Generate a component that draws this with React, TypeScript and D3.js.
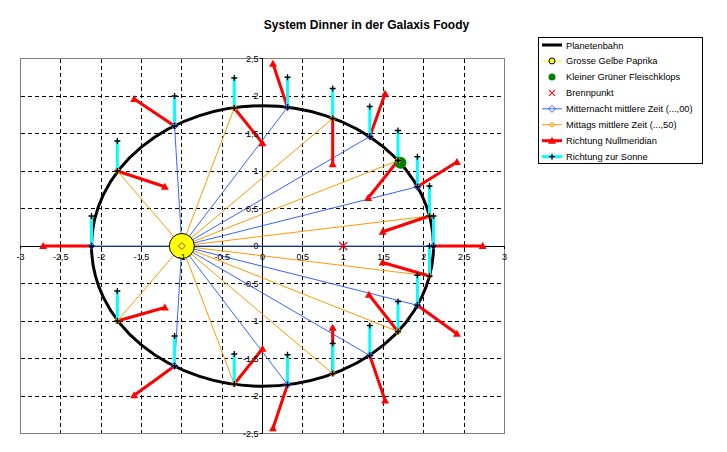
import React from "react";
import * as d3 from "d3";

const W = 727;
const H = 452;
const TITLE = "System Dinner in der Galaxis Foody";

const X_TICKS = [-3, -2.5, -2, -1.5, -1, -0.5, 0, 0.5, 1, 1.5, 2, 2.5, 3];
const Y_TICKS = [-2.5, -2, -1.5, -1, -0.5, 0, 0.5, 1, 1.5, 2, 2.5];

// Planetenbahn (Ellipse), Sonne im linken Brennpunkt
const orbitCenter = [0, 0];
const orbitRadii = [2.12, 1.87];
const sunPos = [-1, 0];
const focusPos = [1, 0];
const meatballPos = [1.71, 1.11];

// Zeitpunkte (,00 = Mitternacht, ,50 = Mittag)
const times = [0, 0.5, 1, 1.5, 2, 2.5, 3, 3.5, 4, 4.5, 5, 5.5, 6, 6.5, 7, 7.5, 8, 8.5, 9, 9.5];
const posX = [-2.12, -1.8, -1.09, -0.35, 0.31, 0.87, 1.33, 1.68, 1.92, 2.07, 2.12, 2.07, 1.92, 1.68, 1.33, 0.87, 0.31, -0.35, -1.09, -1.8];
const posY = [0, 1.0, 1.6, 1.84, 1.85, 1.7, 1.46, 1.14, 0.79, 0.4, 0, -0.4, -0.79, -1.14, -1.46, -1.7, -1.85, -1.84, -1.6, -1.0];
// Richtung Nullmeridian (Vektor)
const merDX = [-0.6, 0.59, -0.5, 0.35, -0.18, 0, 0.19, -0.37, 0.49, -0.58, 0.61, -0.58, 0.49, -0.36, 0.19, 0, -0.18, 0.35, -0.5, 0.59];
const merDY = [0, -0.21, 0.36, -0.47, 0.58, -0.61, 0.57, -0.5, 0.33, -0.21, 0, 0.18, -0.38, 0.49, -0.6, 0.61, -0.58, 0.47, -0.39, 0.18];
// Richtung zur Sonne (senkrecht)
const SUN_ARROW = 0.4;

const LEGEND = [
  "Planetenbahn",
  "Grosse Gelbe Paprika",
  "Kleiner Grüner Fleischklops",
  "Brennpunkt",
  "Mitternacht mittlere Zeit (...,00)",
  "Mittags mittlere Zeit (...,50)",
  "Richtung Nullmeridian",
  "Richtung zur Sonne",
];

const BLUE = "#3366ff";
const ORANGE = "#ff9900";
const RED = "#ff0000";
const CYAN = "#00ffff";
const GREEN = "#008000";
const FONT = "'Liberation Sans', Arial, sans-serif";

const fmt = (d: number) => String(d).replace(".", ",");

const Plus = ({ cx, cy }: { cx: number; cy: number }) => (
  <path d={`M${cx - 3},${cy}H${cx + 3}M${cx},${cy - 3}V${cy + 3}`} stroke="#000" strokeWidth={1.3} />
);
const Tri = ({ cx, cy }: { cx: number; cy: number }) => (
  <path d={`M${cx},${cy - 4}L${cx + 4},${cy + 3}L${cx - 4},${cy + 3}Z`} fill={RED} />
);
const Diamond = ({ cx, cy }: { cx: number; cy: number }) => (
  <path d={`M${cx},${cy - 3.5}L${cx + 3.5},${cy}L${cx},${cy + 3.5}L${cx - 3.5},${cy}Z`} fill="none" stroke={BLUE} strokeWidth={1} />
);
const Ring = ({ cx, cy }: { cx: number; cy: number }) => (
  <circle cx={cx} cy={cy} r={2.5} fill="none" stroke={ORANGE} strokeWidth={1} />
);
const Cross = ({ cx, cy }: { cx: number; cy: number }) => (
  <path d={`M${cx - 4},${cy - 4}L${cx + 4},${cy + 4}M${cx + 4},${cy - 4}L${cx - 4},${cy + 4}`} stroke={RED} strokeWidth={1.2} />
);

export default function App() {
  const x = d3.scaleLinear().domain([-3, 3]).range([20.5, 504.5]);
  const y = d3.scaleLinear().domain([-2.5, 2.5]).range([433.5, 58.5]);

  const pts = times.map((t, i) => ({
    t,
    midnight: Math.abs(t % 1) < 1e-9,
    px: x(posX[i]),
    py: y(posY[i]),
    mx: x(posX[i] + merDX[i]),
    my: y(posY[i] + merDY[i]),
    sy: y(posY[i] + SUN_ARROW),
  }));
  const sx = x(sunPos[0]);
  const sy = y(sunPos[1]);

  const gridX = X_TICKS.filter((d) => d !== 0 && Math.abs(d) !== 3);
  const gridY = Y_TICKS.filter((d) => d !== 0 && Math.abs(d) !== 2.5);

  const legX = 538.5;
  const legY = 37.5;
  const rowY = (i: number) => 45 + i * 15.95;

  return (
    <svg width={W} height={H} style={{ position: "absolute", left: 0, top: 0, fontFamily: FONT }}>
      <rect width={W} height={H} fill="#fff" />

      {/* Gitter */}
      <g stroke="#000" strokeWidth={1} strokeDasharray="4,3" shapeRendering="crispEdges">
        {gridX.map((d) => (
          <line key={"gx" + d} x1={x(d)} x2={x(d)} y1={y(2.5)} y2={y(-2.5)} />
        ))}
        {gridY.map((d) => (
          <line key={"gy" + d} x1={x(-3)} x2={x(3)} y1={y(d)} y2={y(d)} />
        ))}
      </g>
      <rect x={x(-3)} y={y(2.5)} width={x(3) - x(-3)} height={y(-2.5) - y(2.5)} fill="none" stroke="#808080" shapeRendering="crispEdges" />

      {/* Achsen */}
      <g stroke="#000" strokeWidth={1} shapeRendering="crispEdges">
        <line x1={x(-3)} x2={x(3)} y1={y(0)} y2={y(0)} />
        <line x1={x(0)} x2={x(0)} y1={y(2.5)} y2={y(-2.5)} />
        {X_TICKS.map((d) => (
          <line key={"tx" + d} x1={x(d)} x2={x(d)} y1={y(0)} y2={y(0) + 3} />
        ))}
        {Y_TICKS.map((d) => (
          <line key={"ty" + d} x1={x(0) - 3} x2={x(0)} y1={y(d)} y2={y(d)} />
        ))}
      </g>

      {/* Linien */}
      <ellipse
        cx={x(orbitCenter[0])}
        cy={y(orbitCenter[1])}
        rx={x(orbitRadii[0]) - x(0)}
        ry={y(0) - y(orbitRadii[1])}
        fill="none"
        stroke="#000"
        strokeWidth={3}
      />
      {pts.filter((p) => p.midnight).map((p) => (
        <line key={"m" + p.t} x1={sx} y1={sy} x2={p.px} y2={p.py} stroke={BLUE} strokeWidth={1} />
      ))}
      {pts.filter((p) => !p.midnight).map((p) => (
        <line key={"n" + p.t} x1={sx} y1={sy} x2={p.px} y2={p.py} stroke={ORANGE} strokeWidth={1} />
      ))}
      {pts.map((p) => (
        <line key={"r" + p.t} x1={p.px} y1={p.py} x2={p.mx} y2={p.my} stroke={RED} strokeWidth={3} />
      ))}
      {pts.map((p) => (
        <line key={"c" + p.t} x1={p.px} y1={p.py} x2={p.px} y2={p.sy} stroke={CYAN} strokeWidth={3} />
      ))}

      {/* Marker */}
      <circle cx={sx} cy={sy} r={12.5} fill="#ffff00" stroke="#000" strokeWidth={1} />
      <circle cx={x(meatballPos[0])} cy={y(meatballPos[1])} r={6} fill={GREEN} />
      <Cross cx={x(focusPos[0])} cy={y(focusPos[1])} />
      <Diamond cx={sx} cy={sy} />
      {pts.filter((p) => p.midnight).map((p) => (
        <Diamond key={"md" + p.t} cx={p.px} cy={p.py} />
      ))}
      <Ring cx={sx} cy={sy} />
      {pts.filter((p) => !p.midnight).map((p) => (
        <Ring key={"nr" + p.t} cx={p.px} cy={p.py} />
      ))}
      {pts.map((p) => (
        <g key={"rt" + p.t}>
          <Tri cx={p.mx} cy={p.my} />
        </g>
      ))}
      {pts.map((p) => (
        <g key={"cp" + p.t}>
          <Plus cx={p.px} cy={p.py} />
          <Plus cx={p.px} cy={p.sy} />
        </g>
      ))}

      {/* Achsenbeschriftung */}
      <g fontSize={9} fill="#000">
        {X_TICKS.map((d) => (
          <text key={"lx" + d} x={x(d)} y={y(0) + 14} textAnchor="middle">
            {fmt(d)}
          </text>
        ))}
        {Y_TICKS.map((d) => (
          <text key={"ly" + d} x={x(0) - 4} y={y(d) + 3.3} textAnchor="end">
            {fmt(d)}
          </text>
        ))}
      </g>

      <text x={366.5} y={29} textAnchor="middle" fontSize={12} fontWeight="bold">
        {TITLE}
      </text>

      {/* Legende */}
      <rect x={legX} y={legY} width={164} height={126} fill="#fff" stroke="#000" shapeRendering="crispEdges" />
      {LEGEND.map((name, i) => {
        const cy = rowY(i);
        const l1 = 542;
        const l2 = 562;
        const mid = 552;
        let sample: React.ReactNode = null;
        if (i === 0) sample = <line x1={l1} x2={l2} y1={cy} y2={cy} stroke="#000" strokeWidth={3} />;
        if (i === 1)
          sample = (
            <g>
              <line x1={l1} x2={l2} y1={cy} y2={cy} stroke="#ffff00" strokeWidth={1} />
              <circle cx={mid} cy={cy} r={3} fill="#ffff00" stroke="#000" strokeWidth={1} />
            </g>
          );
        if (i === 2) sample = <circle cx={mid} cy={cy} r={3.5} fill={GREEN} />;
        if (i === 3)
          sample = (
            <path d={`M${mid - 3},${cy - 3}L${mid + 3},${cy + 3}M${mid + 3},${cy - 3}L${mid - 3},${cy + 3}`} stroke={RED} strokeWidth={1.1} />
          );
        if (i === 4)
          sample = (
            <g>
              <line x1={l1} x2={l2} y1={cy} y2={cy} stroke={BLUE} strokeWidth={1} />
              <Diamond cx={mid} cy={cy} />
            </g>
          );
        if (i === 5)
          sample = (
            <g>
              <line x1={l1} x2={l2} y1={cy} y2={cy} stroke={ORANGE} strokeWidth={1} />
              <circle cx={mid} cy={cy} r={2} fill="none" stroke={ORANGE} strokeWidth={1} />
            </g>
          );
        if (i === 6)
          sample = (
            <g>
              <line x1={l1} x2={l2} y1={cy} y2={cy} stroke={RED} strokeWidth={3} />
              <Tri cx={mid} cy={cy} />
            </g>
          );
        if (i === 7)
          sample = (
            <g>
              <line x1={l1} x2={l2} y1={cy} y2={cy} stroke={CYAN} strokeWidth={3} />
              <Plus cx={mid} cy={cy} />
            </g>
          );
        return (
          <g key={name}>
            {sample}
            <text x={566} y={cy + 3.5} fontSize={9.3}>
              {name}
            </text>
          </g>
        );
      })}
    </svg>
  );
}
